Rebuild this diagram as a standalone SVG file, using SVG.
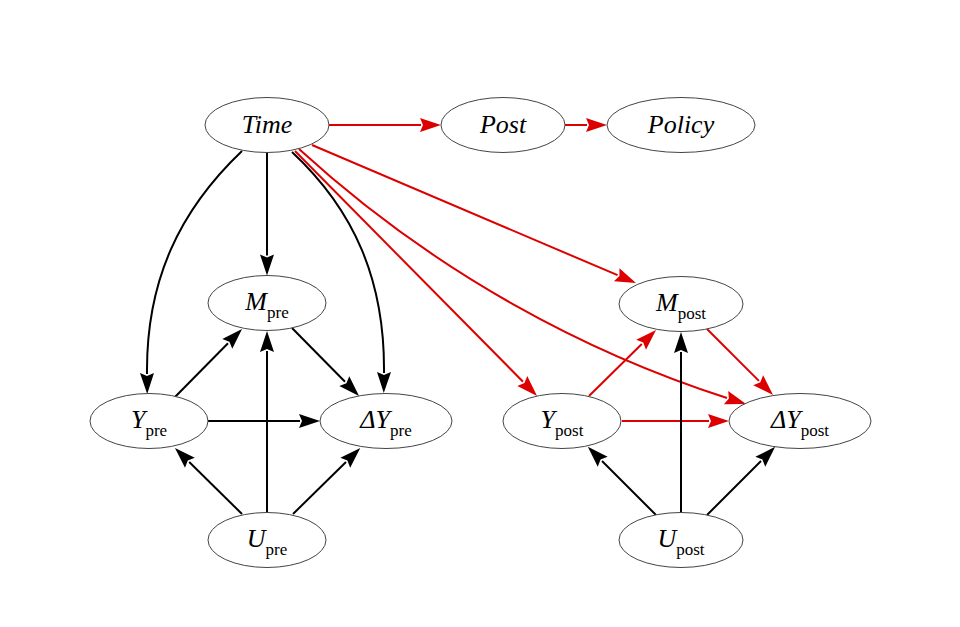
<svg xmlns="http://www.w3.org/2000/svg" width="960" height="627" viewBox="0 0 960 627">
<style>
.node ellipse{fill:#fff;stroke:#444;stroke-width:1}
.node text{font-family:"Liberation Serif","Times New Roman",serif;font-size:26px;fill:#000;text-anchor:middle}
.it{font-style:italic}
.sub{font-size:17px;font-style:normal}
.e{fill:none;stroke-width:2}
.k{stroke:#000}
.r{stroke:#dd0000}
</style>
<defs>
<marker id="ak" markerUnits="userSpaceOnUse" markerWidth="20" markerHeight="14" refX="0" refY="7" orient="auto" overflow="visible">
<path d="M-1,0 L20,7 L-1,14 L2,7 z" fill="#000"/>
</marker>
<marker id="ar" markerUnits="userSpaceOnUse" markerWidth="20" markerHeight="14" refX="0" refY="7" orient="auto" overflow="visible">
<path d="M-1,0 L20,7 L-1,14 L2,7 z" fill="#dd0000"/>
</marker>
</defs>
<rect width="960" height="627" fill="#fff"/>
<g id="edges">
<path class="e k" marker-end="url(#ak)" d="M242,151 C180,210 146,280 147,374"/>
<path class="e k" marker-end="url(#ak)" d="M267,153 L267,255.5"/>
<path class="e k" marker-end="url(#ak)" d="M292,152 C354,210 385,280 384,373"/>
<path class="e k" marker-end="url(#ak)" d="M175,397 L228,343.2"/>
<path class="e k" marker-end="url(#ak)" d="M292,328 L345,381.8"/>
<path class="e k" marker-end="url(#ak)" d="M208,421 L300,421"/>
<path class="e k" marker-end="url(#ak)" d="M242,514 L189.2,462"/>
<path class="e k" marker-end="url(#ak)" d="M267,512.5 L267,351"/>
<path class="e k" marker-end="url(#ak)" d="M293,514 L346,462"/>
<path class="e r" marker-end="url(#ar)" d="M329,125 L421,125"/>
<path class="e r" marker-end="url(#ar)" d="M565,125 L587,125"/>
<path class="e r" marker-end="url(#ar)" d="M312,145 L617.6,275.2"/>
<path class="e r" marker-end="url(#ar)" d="M295,151 L523,381.7"/>
<path class="e r" marker-end="url(#ar)" d="M299,149 C438,276 590,354 727,398"/>
<path class="e r" marker-end="url(#ar)" d="M589,396 L641.8,344"/>
<path class="e r" marker-end="url(#ar)" d="M707,329 L758.9,380.9"/>
<path class="e r" marker-end="url(#ar)" d="M622,421 L709,421"/>
<path class="e k" marker-end="url(#ak)" d="M656,515 L602,461"/>
<path class="e k" marker-end="url(#ak)" d="M681,512.5 L681,352"/>
<path class="e k" marker-end="url(#ak)" d="M707,515 L761,461"/>
</g>
<g id="Time" class="node"><ellipse cx="267" cy="125" rx="62" ry="27.5"/><text x="267" y="133" class="it">Time</text></g>
<g id="Post" class="node"><ellipse cx="503" cy="125" rx="62" ry="27.5"/><text x="503" y="133" class="it">Post</text></g>
<g id="Policy" class="node"><ellipse cx="681" cy="125" rx="74" ry="27.5"/><text x="681" y="133" class="it">Policy</text></g>
<g id="M_pre" class="node"><ellipse cx="267" cy="303" rx="59" ry="27.5"/><text x="267" y="310"><tspan class="it">M</tspan><tspan class="sub" dy="8">pre</tspan></text></g>
<g id="Y_pre" class="node"><ellipse cx="149" cy="421" rx="59" ry="27.5"/><text x="149" y="428"><tspan class="it">Y</tspan><tspan class="sub" dy="8">pre</tspan></text></g>
<g id="dY_pre" class="node"><ellipse cx="386" cy="421" rx="66" ry="27.5"/><text x="386" y="428"><tspan class="it">ΔY</tspan><tspan class="sub" dy="8">pre</tspan></text></g>
<g id="U_pre" class="node"><ellipse cx="267" cy="540" rx="59" ry="27.5"/><text x="267" y="547"><tspan class="it">U</tspan><tspan class="sub" dy="8">pre</tspan></text></g>
<g id="M_post" class="node"><ellipse cx="681" cy="304" rx="62" ry="27.5"/><text x="681" y="311"><tspan class="it">M</tspan><tspan class="sub" dy="8">post</tspan></text></g>
<g id="Y_post" class="node"><ellipse cx="562" cy="421" rx="59" ry="27.5"/><text x="562" y="428"><tspan class="it">Y</tspan><tspan class="sub" dy="8">post</tspan></text></g>
<g id="dY_post" class="node"><ellipse cx="800" cy="421" rx="71" ry="27.5"/><text x="800" y="428"><tspan class="it">ΔY</tspan><tspan class="sub" dy="8">post</tspan></text></g>
<g id="U_post" class="node"><ellipse cx="681" cy="540" rx="62" ry="27.5"/><text x="681" y="547"><tspan class="it">U</tspan><tspan class="sub" dy="8">post</tspan></text></g>
</svg>
